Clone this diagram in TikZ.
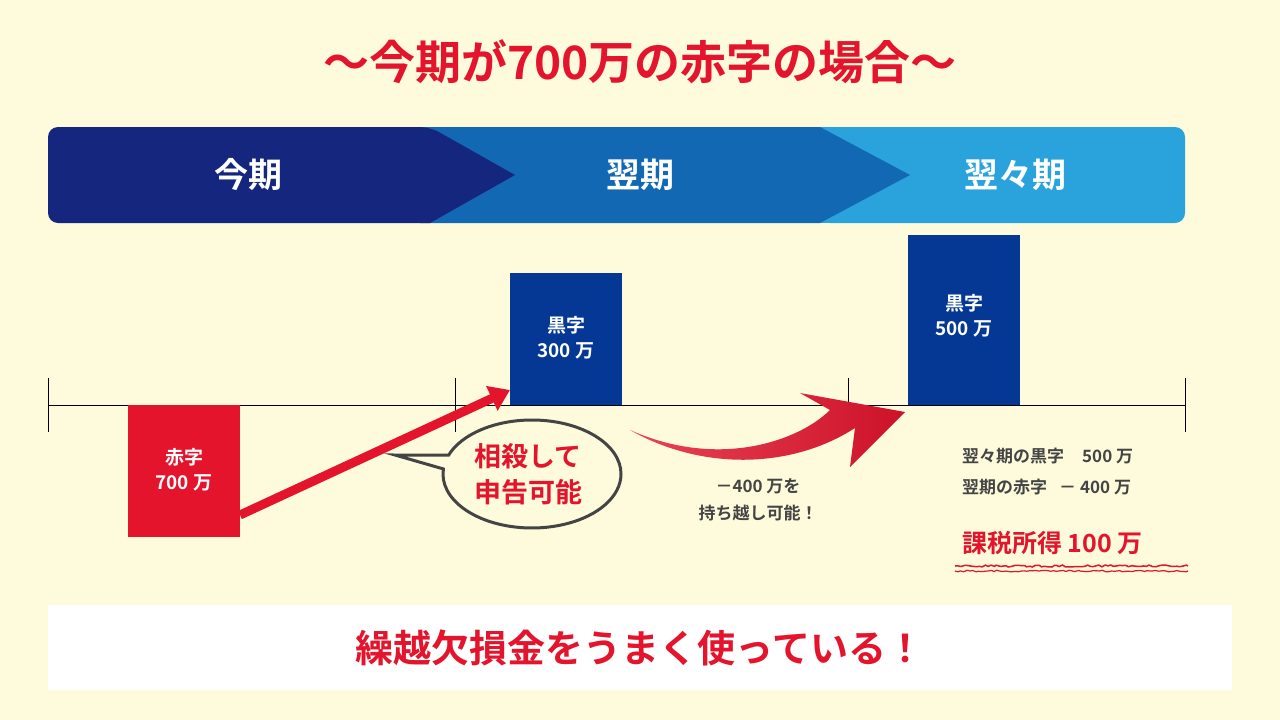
\documentclass[tikz,border=0pt]{standalone}
\usepackage{fontspec}
\setmainfont{Noto Sans CJK JP}[BoldFont={* Bold}]
\usetikzlibrary{arrows.meta,shapes.callouts,decorations.pathmorphing}
\definecolor{bg}{HTML}{FDFBDC}
\definecolor{rd}{HTML}{E3142C}
\definecolor{navy}{HTML}{15267E}
\definecolor{mblue}{HTML}{1368B4}
\definecolor{lblue}{HTML}{2AA3DD}
\definecolor{bbox}{HTML}{053894}
\definecolor{gy}{HTML}{444444}
\tikzset{lbl/.style={font=\bfseries,align=center,inner sep=0pt},
 bar/.style={fill=bbox,draw=none},
 tick/.style={line width=1pt}}
\begin{document}
\begin{tikzpicture}[x=1pt,y=-1pt]
\fill[bg] (0,0) rectangle (1280,720);
\useasboundingbox (0,0) rectangle (1280,720);
\node[lbl,text=rd,font=\bfseries\fontsize{46}{50}\selectfont] (title) at (640,62) {～今期が700万の赤字の場合～};
% banner
\fill[lblue,rounded corners=10pt] (820,127) -- (1185,127) -- (1185,223) -- (820,223) -- cycle;
\fill[lblue] (800,127) rectangle (830,223);
\fill[mblue] (420,127) -- (820,127) -- (910,175) -- (820,223) -- (420,223) -- cycle;
\fill[navy,rounded corners=10pt] (48,127) -- (430,127) [sharp corners]-- (515,175) -- (430,223) [rounded corners=10pt]-- (48,223) -- cycle;
\node[lbl,text=white,font=\bfseries\fontsize{34}{38}\selectfont] (b1) at (248,175) {今期};
\node[lbl,text=white,font=\bfseries\fontsize{34}{38}\selectfont] (b2) at (640,175) {翌期};
\node[lbl,text=white,font=\bfseries\fontsize{34}{38}\selectfont] (b3) at (1015,175) {翌々期};
% timeline
\coordinate (t0) at (48,405); \coordinate (t3) at (1185,405);
\draw[tick] (t0) -- (t3);
\foreach \x in {48,455,848,1185} \draw[tick] (\x,378) -- (\x,432);
% bars
\fill[rd] (128,405) rectangle (240,537);
\node[lbl,text=white,font=\bfseries\fontsize{19}{25}\selectfont] (red) at (184,470) {赤字\\700 万};
\fill[bar] (510,273) rectangle (622,405);
\node[lbl,text=white,font=\bfseries\fontsize{19}{25}\selectfont] (k1) at (566,338) {黒字\\300 万};
\fill[bar] (908,235) rectangle (1020,405);
\node[lbl,text=white,font=\bfseries\fontsize{19}{25}\selectfont] (k2) at (964,316) {黒字\\500 万};
% arrow
\coordinate (a0) at (240,515); \coordinate (a1) at (510,390);
\draw[rd,line width=9pt,-{Triangle[length=20pt,width=26pt]}] (a0) -- (a1);
% bubble
\node[ellipse callout,draw=gy,line width=3pt,fill=bg,minimum width=178pt,minimum height=108pt,callout absolute pointer={(395,455)}] (bub) at (532,474) {};
\node[lbl,text=rd,font=\bfseries\fontsize{27}{36}\selectfont] (bt) at (528,474) {相殺して\\申告可能};
% curved arrow
\shade[left color=rd!80!white,right color=rd!90!black] (630,430) .. controls (720,470) and (800,440) .. (830,410) -- (800,393) -- (905,412) -- (850,467) -- (855,428) .. controls (790,470) and (700,470) .. (630,430) -- cycle;
\node[lbl,text=gy,font=\bfseries\fontsize{17}{27}\selectfont] (carry) at (758,500) {－400 万を\\持ち越し可能！};
% right text
\node[lbl,text=gy,font=\bfseries\fontsize{17}{22}\selectfont,anchor=west] (r1) at (962,456) {翌々期の黒字\hspace{18pt}500 万};
\node[lbl,text=gy,font=\bfseries\fontsize{17}{22}\selectfont,anchor=west] (r2) at (962,487) {翌期の赤字\hspace{12pt}－ 400 万};
\node[lbl,text=rd,font=\bfseries\fontsize{25}{30}\selectfont,anchor=west] (r3) at (962,543) {課税所得 100 万};
\draw[rd,line width=1.5pt,decorate,decoration={random steps,segment length=3pt,amplitude=1pt}] (955,566) -- (1188,566);
\draw[rd,line width=1.2pt,decorate,decoration={random steps,segment length=3pt,amplitude=0.8pt}] (955,571) -- (1188,571);
% bottom
\fill[white] (48,605) rectangle (1232,690);
\node[lbl,text=rd,font=\bfseries\fontsize{38}{42}\selectfont] (bottom) at (640,648) {繰越欠損金をうまく使っている！};
\end{tikzpicture}
\end{document}
